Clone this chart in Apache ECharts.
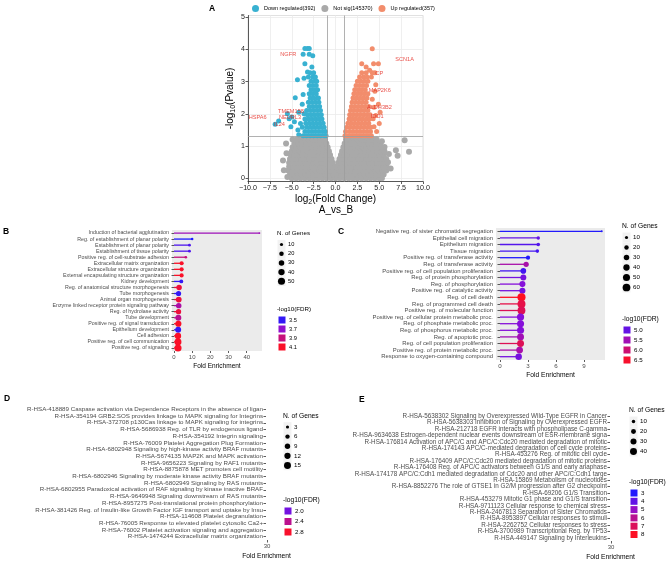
<!DOCTYPE html>
<html>
<head>
<meta charset="utf-8">
<script src="https://cdn.jsdelivr.net/npm/echarts@6/dist/echarts.min.js"></script>
<style>
html, body { margin: 0; padding: 0; background: #fff; }
#main { width: 669px; height: 567px; }
</style>
</head>
<body>
<div id="main"></div>
<script>
// ---------- panel A : volcano ----------
const volcanoNames = ['Down regulated(392)', 'Not sig(145370)', 'Up regulated(357)'];
// point clouds, one row per -log10(p) level: [y, [x ...]]
const notSigRows = [
  [0.0, [-5.0, -4.5, -4.0, -3.5, -3.0, -2.5, -2.0, -1.5, -1.0, -0.5, 0, 0.5, 1.0, 1.5, 2.0, 2.5, 3.0, 3.5, 4.0, 4.5, 5.0, 5.3]],
  [0.12, [-5.2, -4.75, -4.3, -3.85, -3.4, -2.95, -2.5, -2.05, -1.6, -1.15, -0.7, -0.25, 0.2, 0.65, 1.1, 1.55, 2.0, 2.45, 2.9, 3.35, 3.8, 4.25, 4.7, 5.15, 5.5]],
  [0.24, [-5.4, -4.95, -4.5, -4.05, -3.6, -3.15, -2.7, -2.25, -1.8, -1.35, -0.9, -0.45, 0, 0.45, 0.9, 1.35, 1.8, 2.25, 2.7, 3.15, 3.6, 4.05, 4.5, 4.95, 5.4, 5.8]],
  [0.36, [-5.3, -4.85, -4.4, -3.95, -3.5, -3.05, -2.6, -2.15, -1.7, -1.25, -0.8, -0.35, 0.1, 0.55, 1.0, 1.45, 1.9, 2.35, 2.8, 3.25, 3.7, 4.15, 4.6, 5.05, 5.5, 5.85]],
  [0.48, [-5.3, -4.75, -4.3, -3.85, -3.4, -2.95, -2.5, -2.05, -1.6, -1.15, -0.7, -0.32, 0.32, 0.7, 1.15, 1.6, 2.05, 2.5, 2.95, 3.4, 3.85, 4.3, 4.75, 5.2, 5.65]],
  [0.6, [-5.2, -4.75, -4.3, -3.85, -3.4, -2.95, -2.5, -2.05, -1.6, -1.15, -0.75, -0.45, 0.45, 0.8, 1.25, 1.7, 2.15, 2.6, 3.05, 3.5, 3.95, 4.4, 4.85, 5.3, 5.8]],
  [0.72, [-5.1, -4.65, -4.2, -3.75, -3.3, -2.85, -2.4, -1.95, -1.5, -1.05, -0.62, 0.62, 1.0, 1.45, 1.9, 2.35, 2.8, 3.25, 3.7, 4.15, 4.6, 5.05, 5.5]],
  [0.84, [-5.0, -4.55, -4.1, -3.65, -3.2, -2.75, -2.3, -1.85, -1.4, -0.95, -0.75, 0.75, 1.15, 1.6, 2.05, 2.5, 2.95, 3.4, 3.85, 4.3, 4.75, 5.2, 5.6]],
  [0.96, [-4.9, -4.45, -4.0, -3.55, -3.1, -2.65, -2.2, -1.75, -1.3, -0.9, 0.9, 1.3, 1.75, 2.2, 2.65, 3.1, 3.55, 4.0, 4.45, 4.9, 5.3]],
  [1.08, [-4.7, -4.25, -3.8, -3.35, -2.9, -2.45, -2.0, -1.55, -1.05, 1.05, 1.5, 1.95, 2.4, 2.85, 3.3, 3.75, 4.2, 4.65, 5.1]],
  [1.2, [-4.4, -3.95, -3.5, -3.05, -2.6, -2.15, -1.7, -1.2, 1.2, 1.65, 2.1, 2.55, 3.0, 3.45, 3.9, 4.35, 4.7]],
  [1.28, [-3.8, -3.2, -2.6, -2.0, -1.4, 1.35, 2.0, 2.6, 3.2, 3.8]]
];
const notSigOutliers = [
  [-5.65, 1.08], [-5.6, 0.78], [-6.0, 0.55], [-5.9, 0.25], [-5.5, 0.04], [-4.9, 1.2],
  [5.6, 0.97], [6.1, 0.75], [6.0, 0.5], [6.9, 0.87], [7.1, 0.7], [7.9, 1.18], [8.4, 0.82], [6.3, 0.3], [5.3, 1.15]
];
const downRows = [
  [1.32, [-3.7, -3.3, -2.9, -2.5, -2.1, -1.7, -1.3, -1.08]],
  [1.45, [-3.5, -3.1, -2.7, -2.3, -1.9, -1.5, -1.15]],
  [1.58, [-3.8, -3.3, -2.9, -2.5, -2.1, -1.7, -1.3]],
  [1.71, [-3.4, -3.0, -2.6, -2.2, -1.8, -1.42]],
  [1.84, [-3.5, -3.1, -2.7, -2.3, -1.9, -1.55]],
  [1.97, [-3.2, -2.8, -2.4, -2.0, -1.62]],
  [2.1, [-3.3, -2.9, -2.5, -2.1, -1.72]],
  [2.23, [-3.0, -2.6, -2.2, -1.82]],
  [2.36, [-3.1, -2.7, -2.3, -1.9]],
  [2.49, [-2.9, -2.5, -2.1, -1.95]],
  [2.62, [-3.0, -2.6, -2.2]],
  [2.75, [-2.8, -2.4, -2.05]],
  [2.88, [-3.0, -2.6, -2.2]],
  [3.01, [-2.8, -2.4, -2.15]],
  [3.14, [-3.1, -2.6, -2.3]],
  [3.27, [-2.9, -2.5]]
];
const downOutliers = [
  [-3.5, 4.03], [-3.2, 4.03], [-3.0, 4.03], [-3.7, 3.85], [-3.0, 3.85], [-2.6, 3.8],
  [-3.5, 3.55], [-2.7, 3.45], [-3.2, 3.3], [-3.6, 3.1],
  [-4.6, 2.5], [-4.35, 3.06], [-5.0, 1.9], [-5.1, 1.6], [-4.7, 1.75], [-4.2, 2.05], [-4.3, 1.5],
  [-3.8, 2.3], [-4.0, 1.7], [-3.7, 2.6], [-3.6, 2.0], [-4.2, 1.35], [-5.5, 2.0], [-5.3, 1.85],
  [-6.5, 1.78], [-6.9, 1.68]
];
const upRows = [
  [1.32, [1.08, 1.4, 1.8, 2.2, 2.6, 3.0, 3.4, 3.8, 4.1]],
  [1.45, [1.15, 1.6, 2.0, 2.4, 2.8, 3.2, 3.6, 4.0]],
  [1.58, [1.3, 1.7, 2.1, 2.5, 2.9, 3.3, 3.7, 4.05]],
  [1.71, [1.42, 1.8, 2.2, 2.6, 3.0, 3.4, 3.8]],
  [1.84, [1.55, 1.9, 2.3, 2.7, 3.1, 3.5, 3.9]],
  [1.97, [1.62, 2.0, 2.4, 2.8, 3.2, 3.6, 3.95]],
  [2.1, [1.72, 2.1, 2.5, 2.9, 3.3, 3.7]],
  [2.23, [1.82, 2.2, 2.6, 3.0, 3.4, 3.8]],
  [2.36, [1.9, 2.3, 2.7, 3.1, 3.5]],
  [2.49, [2.0, 2.4, 2.8, 3.2, 3.6]],
  [2.62, [2.1, 2.5, 2.9, 3.3, 3.7]],
  [2.75, [2.2, 2.6, 3.0, 3.4]],
  [2.88, [2.35, 2.75, 3.15, 3.55]],
  [3.01, [2.5, 2.9, 3.3, 3.7]],
  [3.14, [2.75, 3.2, 3.6, 4.1]],
  [3.27, [3.0, 3.5, 4.2, 4.5]]
];
const upOutliers = [
  [4.2, 4.02], [3.0, 3.55], [4.35, 3.55], [4.9, 3.55], [3.5, 3.45], [3.9, 3.35],
  [4.6, 2.9], [4.5, 2.7], [4.9, 2.3], [4.4, 2.2], [4.6, 1.95], [5.0, 1.7], [4.4, 1.6],
  [4.7, 1.45], [4.3, 1.85], [4.2, 2.45], [5.1, 2.05]
];
const geneLabels = [
  ['NGFR', -5.4, 3.85], ['SCN1A', 7.9, 3.7], ['CP', 5.0, 3.24], ['MAP2K6', 5.06, 2.71],
  ['ALDH3B2', 5.02, 2.2], ['IDO1', 4.76, 1.92], ['TMEM158', -5.09, 2.07], ['NEURL3', -5.2, 1.88],
  ['IL24', -6.4, 1.68], ['HSPA6', -8.9, 1.89]
];
const volcanoTicksY = [0, 1, 2, 3, 4, 5];

// ---------- panel B : GO (up) ----------
const catsB = ['Induction of bacterial agglutination', 'Reg. of establishment of planar polarity', 'Establishment of planar polarity',
  'Establishment of tissue polarity', 'Positive reg. of cell-substrate adhesion', 'Extracellular matrix organization',
  'Extracellular structure organization', 'External encapsulating structure organization', 'Kidney development',
  'Reg. of anatomical structure morphogenesis', 'Tube morphogenesis', 'Animal organ morphogenesis',
  'Enzyme linked receptor protein signaling pathway', 'Reg. of hydrolase activity', 'Tube development',
  'Positive reg. of signal transduction', 'Epithelium development', 'Cell adhesion',
  'Positive reg. of cell communication', 'Positive reg. of signaling'];
const foldB = [47, 10, 8.5, 8.5, 6.5, 4.2, 4.2, 4.2, 4.0, 2.8, 2.5, 2.6, 2.6, 2.5, 2.4, 2.4, 2.3, 2.2, 2.2, 2.2];
const genesB = [3, 6, 8, 8, 7, 17, 17, 17, 15, 30, 27, 33, 30, 28, 35, 38, 35, 40, 48, 50];
const fdrB = [3.75, 3.45, 3.55, 3.55, 3.9, 4.1, 4.1, 4.1, 3.5, 4.05, 3.5, 4.05, 3.8, 4.05, 3.85, 4.1, 3.5, 4.1, 4.1, 4.1];
const foldTicksB = [0, 10, 20, 30, 40];
const sizeTicksB = [10, 20, 30, 40, 50];
const fdrTicksB = [3.5, 3.7, 3.9, 4.1];

// ---------- panel C : GO (down) ----------
const catsC = ['Negative reg. of sister chromatid segregation', 'Epithelial cell migration', 'Epithelium migration',
  'Tissue migration', 'Positive reg. of transferase activity', 'Reg. of transferase activity',
  'Positive reg. of cell population proliferation', 'Reg. of protein phosphorylation', 'Reg. of phosphorylation',
  'Positive reg. of catalytic activity', 'Reg. of cell death', 'Reg. of programmed cell death',
  'Positive reg. of molecular function', 'Positive reg. of cellular protein metabolic proc.',
  'Reg. of phosphate metabolic proc.', 'Reg. of phosphorus metabolic proc.', 'Reg. of apoptotic proc.',
  'Reg. of cell population proliferation', 'Positive reg. of protein metabolic proc.', 'Response to oxygen-containing compound'];
const foldC = [10.9, 4.1, 4.1, 4.0, 3.0, 2.8, 2.5, 2.5, 2.4, 2.4, 2.3, 2.3, 2.3, 2.2, 2.2, 2.2, 2.2, 2.2, 2.1, 2.0];
const genesC = [4, 12, 13, 13, 18, 28, 32, 35, 37, 37, 66, 64, 62, 52, 50, 50, 48, 48, 46, 42];
const fdrC = [4.6, 5.0, 4.9, 4.8, 4.6, 5.6, 4.8, 5.1, 5.2, 5.1, 6.6, 6.3, 6.2, 5.2, 5.2, 5.2, 5.5, 6.2, 5.6, 5.1];
const foldTicksC = [0, 3, 6, 9];
const sizeTicksC = [10, 20, 30, 40, 50, 60];
const fdrTicksC = [5.0, 5.5, 6.0, 6.5];

// ---------- panel D : Reactome (up) ----------
const catsD = ['R-HSA-418889 Caspase activation via Dependence Receptors in the absence of ligan',
  'R-HSA-354194 GRB2:SOS provides linkage to MAPK signaling for Integrins',
  'R-HSA-372708 p130Cas linkage to MAPK signaling for integrins',
  'R-HSA-5686938 Reg. of TLR by endogenous ligand', 'R-HSA-354192 Integrin signaling',
  'R-HSA-76009 Platelet Aggregation Plug Formation', 'R-HSA-6802948 Signaling by high-kinase activity BRAF mutants',
  'R-HSA-5674135 MAP2K and MAPK activation', 'R-HSA-9656223 Signaling by RAF1 mutants',
  'R-HSA-8875878 MET promotes cell motility', 'R-HSA-6802946 Signaling by moderate kinase activity BRAF mutants',
  'R-HSA-6802949 Signaling by RAS mutants', 'R-HSA-6802955 Paradoxical activation of RAF signaling by kinase inactive BRAF',
  'R-HSA-9649948 Signaling downstream of RAS mutants', 'R-HSA-8957275 Post-translational protein phosphorylation',
  'R-HSA-381426 Reg. of Insulin-like Growth Factor IGF transport and uptake by Insu',
  'R-HSA-114608 Platelet degranulation', 'R-HSA-76005 Response to elevated platelet cytosolic Ca2+',
  'R-HSA-76002 Platelet activation signaling and aggregation', 'R-HSA-1474244 Extracellular matrix organization'];
const sizeTicksD = [3, 6, 9, 12, 15];
const fdrTicksD = [2.0, 2.4, 2.8];

// ---------- panel E : Reactome (down) ----------
const catsE = ['R-HSA-5638302 Signaling by Overexpressed Wild-Type EGFR in Cancer',
  'R-HSA-5638303 Inhibition of Signaling by Overexpressed EGFR',
  'R-HSA-212718 EGFR interacts with phospholipase C-gamma',
  'R-HSA-9634638 Estrogen-dependent nuclear events downstream of ESR-membrane signa',
  'R-HSA-176814 Activation of APC/C and APC/C:Cdc20 mediated degradation of mitotic',
  'R-HSA-174143 APC/C-mediated degradation of cell cycle proteins', 'R-HSA-453276 Reg. of mitotic cell cycle',
  'R-HSA-176409 APC/C:Cdc20 mediated degradation of mitotic proteins',
  'R-HSA-176408 Reg. of APC/C activators between G1/S and early anaphase',
  'R-HSA-174178 APC/C:Cdh1 mediated degradation of Cdc20 and other APC/C:Cdh1 targe',
  'R-HSA-15869 Metabolism of nucleotides', 'R-HSA-8852276 The role of GTSE1 in G2/M progression after G2 checkpoint',
  'R-HSA-69206 G1/S Transition', 'R-HSA-453279 Mitotic G1 phase and G1/S transition',
  'R-HSA-9711123 Cellular response to chemical stress', 'R-HSA-2467813 Separation of Sister Chromatids',
  'R-HSA-8953897 Cellular responses to stimuli', 'R-HSA-2262752 Cellular responses to stress',
  'R-HSA-3700989 Transcriptional Reg. by TP53', 'R-HSA-449147 Signaling by Interleukins'];
const sizeTicksE = [10, 20, 30, 40];
const fdrTicksE = [3, 4, 5, 6, 7, 8];

// ---------- helpers ----------
const FONT = 'Liberation Sans, Arial, sans-serif';
const TXT = '#4d4d4d';
const stops = [[0, [26, 26, 255]], [0.33, [138, 16, 216]], [0.55, [176, 16, 159]], [0.75, [212, 16, 100]], [1, [255, 16, 32]]];
function fdrColor(v, lo, hi) {
  const t = Math.max(0, Math.min(1, (v - lo) / (hi - lo)));
  for (let i = 1; i < stops.length; i++) {
    if (t <= stops[i][0]) {
      const a = stops[i - 1], b = stops[i];
      const f = (t - a[0]) / (b[0] - a[0]);
      return 'rgb(' + a[1].map((c, k) => Math.round(c + (b[1][k] - c) * f)).join(',') + ')';
    }
  }
  return 'rgb(255,16,32)';
}

function rowsToPts(rows, extra) {
  const out = [];
  rows.forEach(r => r[1].forEach(x => out.push([x, r[0]])));
  extra.forEach(p => out.push(p));
  return out;
}

function lollipop(idx, cats, fold, genes, fdr, lo, hi, k) {
  return [
    {
      type: 'bar', xAxisIndex: idx, yAxisIndex: idx, barWidth: 1.3, silent: true,
      data: fold.map((v, i) => ({ value: v, itemStyle: { color: fdrColor(fdr[i], lo, hi) } }))
    },
    {
      type: 'scatter', xAxisIndex: idx, yAxisIndex: idx, silent: true,
      data: fold.map((v, i) => ({
        value: [v, cats[i]], symbolSize: Math.sqrt(genes[i]) * k,
        itemStyle: { color: fdrColor(fdr[i], lo, hi), opacity: 1 }
      }))
    }
  ];
}

function txt(x, y, text, size, opt) {
  return {
    type: 'text', silent: true,
    style: Object.assign({
      x: x, y: y, text: text, fill: '#000', font: size + 'px ' + FONT,
      align: 'left', textAlign: 'left', verticalAlign: 'middle', textVerticalAlign: 'middle'
    }, opt || {})
  };
}

function sizeLegend(x, y, ticks, k, step, fs) {
  const out = [txt(x, y, 'N. of Genes', fs)];
  ticks.forEach((t, i) => {
    const cy = y + 11 + i * step;
    out.push({ type: 'rect', silent: true, shape: { x: x + 0.5, y: cy - step / 2, width: 8, height: step }, style: { fill: '#f2f2f2' } });
    out.push({ type: 'circle', silent: true, shape: { cx: x + 4.5, cy: cy, r: Math.sqrt(t) * k / 2 }, style: { fill: '#000' } });
    out.push(txt(x + 11, cy, String(t), fs - 0.5));
  });
  return out;
}

function colorLegend(x, y, ticks, lo, hi, step, fs, dec) {
  const out = [txt(x, y, '-log10(FDR)', fs)];
  ticks.forEach((t, i) => {
    const cy = y + 11 + i * step;
    out.push({ type: 'rect', silent: true, shape: { x: x + 1.5, y: cy - 3.5, width: 7, height: 7 }, style: { fill: fdrColor(t, lo, hi) } });
    out.push(txt(x + 12, cy, t.toFixed(dec), fs - 0.5));
  });
  return out;
}

function catAxis(idx, cats, fs) {
  return {
    type: 'category', gridIndex: idx, data: cats, inverse: true,
    axisLine: { show: false },
    axisTick: { show: true, alignWithLabel: true, length: 2.5, lineStyle: { color: '#333', width: 0.8 } },
    axisLabel: { interval: 0, fontSize: fs, color: TXT, margin: 3, fontFamily: FONT }
  };
}

function foldAxis(idx, min, max, ticks, gap, fs) {
  return {
    type: 'value', gridIndex: idx, min: min, max: max,
    splitLine: { show: false }, axisLine: { show: false },
    axisTick: { show: true, customValues: ticks, length: 2, lineStyle: { color: '#333', width: 0.8 } },
    axisLabel: { fontSize: fs, color: TXT, margin: 3, fontFamily: FONT, customValues: ticks },
    name: 'Fold Enrichment', nameLocation: 'middle', nameGap: gap,
    nameTextStyle: { fontSize: fs + 0.5, color: '#000', fontFamily: FONT }
  };
}

function tinyAxis(idx) {
  return {
    type: 'value', gridIndex: idx, min: 20, max: 30, interval: 10,
    splitLine: { show: false }, axisLine: { show: false },
    axisTick: { show: true, length: 2.5, lineStyle: { color: '#333', width: 0.8 } },
    axisLabel: { fontSize: 6, color: TXT, margin: 3 },
    name: 'Fold Enrichment', nameLocation: 'middle', nameGap: 13,
    nameTextStyle: { fontSize: 6.7, color: '#000' }
  };
}

const chart = echarts.init(document.getElementById('main'), null, { renderer: 'canvas' });

const option = {
  animation: false,
  backgroundColor: '#fff',
  textStyle: { fontFamily: FONT },
  legend: {
    data: volcanoNames, left: 247, top: 0, icon: 'circle', itemWidth: 7, itemHeight: 7, itemGap: 6,
    textStyle: { fontSize: 5.5, color: '#000' }
  },
  grid: [
    { left: 248, top: 15.5, width: 175, height: 166, show: true, borderColor: '#d9d9d9', borderWidth: 0.8, backgroundColor: '#fff' },
    { left: 172, top: 230, width: 90, height: 121, show: true, borderWidth: 0, backgroundColor: '#ebebeb' },
    { left: 496, top: 228, width: 109, height: 132, show: true, borderWidth: 0, backgroundColor: '#ebebeb' },
    { left: 266, top: 406, width: 1, height: 134 },
    { left: 610, top: 413, width: 1, height: 128 }
  ],
  xAxis: [
    {
      type: 'value', gridIndex: 0, min: -10, max: 10, interval: 2.5,
      splitLine: { show: true, lineStyle: { color: '#ebebeb', width: 0.8 } },
      axisLine: { show: true, onZero: false, lineStyle: { color: '#333', width: 0.8 } },
      axisTick: { show: true, length: 2.5, lineStyle: { color: '#333', width: 0.8 } },
      axisLabel: { fontSize: 7.1, color: '#222', margin: 3, formatter: v => v.toFixed(1).replace('-', '\u2212') },
      name: 'log{sub|2}(Fold Change)', nameLocation: 'middle', nameGap: 11,
      nameTextStyle: { fontSize: 10, color: '#000', rich: { sub: { fontSize: 7, padding: [6, 0, 0, 0] } } }
    },
    foldAxis(1, -1.1, 48.4, foldTicksB, 12, 6),
    foldAxis(2, -0.43, 11.25, foldTicksC, 12, 6.2),
    tinyAxis(3),
    tinyAxis(4)
  ],
  yAxis: [
    {
      type: 'value', gridIndex: 0, min: -0.1, max: 5.05,
      splitLine: { show: true, lineStyle: { color: '#ebebeb', width: 0.8 } },
      axisLine: { show: true, onZero: false, lineStyle: { color: '#333', width: 0.8 } },
      axisTick: { show: true, customValues: volcanoTicksY, length: 2.5, lineStyle: { color: '#333', width: 0.8 } },
      axisLabel: { fontSize: 7.1, color: '#222', margin: 3, customValues: volcanoTicksY },
      name: '-log{sub|10}(Pvalue)', nameLocation: 'middle', nameGap: 11, nameRotate: 90,
      nameTextStyle: { fontSize: 10, color: '#000', rich: { sub: { fontSize: 7, padding: [6, 0, 0, 0] } } }
    },
    catAxis(1, catsB, 5.3),
    catAxis(2, catsC, 5.9),
    catAxis(3, catsD, 6.2),
    catAxis(4, catsE, 6.3)
  ],
  series: [
    {
      name: volcanoNames[1], type: 'scatter', xAxisIndex: 0, yAxisIndex: 0, data: rowsToPts(notSigRows, notSigOutliers),
      symbolSize: 6, itemStyle: { color: '#a9a9a9', opacity: 1 }, silent: true,
      markLine: {
        silent: true, symbol: ['none', 'none'], label: { show: false },
        lineStyle: { color: '#9d9d9d', type: 'solid', width: 0.8 },
        data: [{ xAxis: -1 }, { xAxis: 1 }, { yAxis: 1.3 }]
      }
    },
    {
      name: volcanoNames[0], type: 'scatter', xAxisIndex: 0, yAxisIndex: 0, data: rowsToPts(downRows, downOutliers),
      symbolSize: 5, itemStyle: { color: '#38b1d1', opacity: 1 }, silent: true
    },
    {
      name: volcanoNames[2], type: 'scatter', xAxisIndex: 0, yAxisIndex: 0, data: rowsToPts(upRows, upOutliers),
      symbolSize: 5, itemStyle: { color: '#f28d6c', opacity: 1 }, silent: true
    },
    {
      name: 'genes', type: 'scatter', xAxisIndex: 0, yAxisIndex: 0, symbolSize: 0, silent: true,
      data: geneLabels.map(g => ({ value: [g[1], g[2]], name: g[0] })),
      label: { show: true, position: 'inside', formatter: p => p.name, color: '#e3231c', fontSize: 5.6 }
    },
    ...lollipop(1, catsB, foldB, genesB, fdrB, 3.45, 4.12, 1.0),
    ...lollipop(2, catsC, foldC, genesC, fdrC, 4.55, 6.6, 1.0),
    { type: 'scatter', xAxisIndex: 3, yAxisIndex: 3, data: [] },
    { type: 'scatter', xAxisIndex: 4, yAxisIndex: 4, data: [] }
  ],
  graphic: [
    txt(209, 9, 'A', 8.5, { font: 'bold 8.5px ' + FONT }),
    txt(3, 232, 'B', 8.5, { font: 'bold 8.5px ' + FONT }),
    txt(338, 232, 'C', 8.5, { font: 'bold 8.5px ' + FONT }),
    txt(4, 399, 'D', 8.5, { font: 'bold 8.5px ' + FONT }),
    txt(359, 400, 'E', 8.5, { font: 'bold 8.5px ' + FONT }),
    txt(336, 210, 'A_vs_B', 10, { align: 'center', textAlign: 'center' }),
    ...sizeLegend(277, 233.5, sizeTicksB, 1.0, 9.2, 6.2),
    ...colorLegend(277, 309, fdrTicksB, 3.45, 4.12, 9, 6.2, 1),
    ...sizeLegend(622, 226.5, sizeTicksC, 1.0, 10, 6.7),
    ...colorLegend(622, 319, fdrTicksC, 4.55, 6.6, 10, 6.7, 1),
    ...sizeLegend(283, 416, sizeTicksD, 1.8, 9.6, 6.7),
    ...colorLegend(283, 500, fdrTicksD, 1.7, 2.85, 10.5, 6.7, 1),
    ...sizeLegend(629, 410.5, sizeTicksE, 1.1, 10, 6.7),
    ...colorLegend(629, 482, fdrTicksE, 2.9, 8.1, 8.3, 6.7, 0)
  ]
};

chart.setOption(option);
window.addEventListener('resize', function () {
  chart.resize();
});
</script>
</body>
</html>
